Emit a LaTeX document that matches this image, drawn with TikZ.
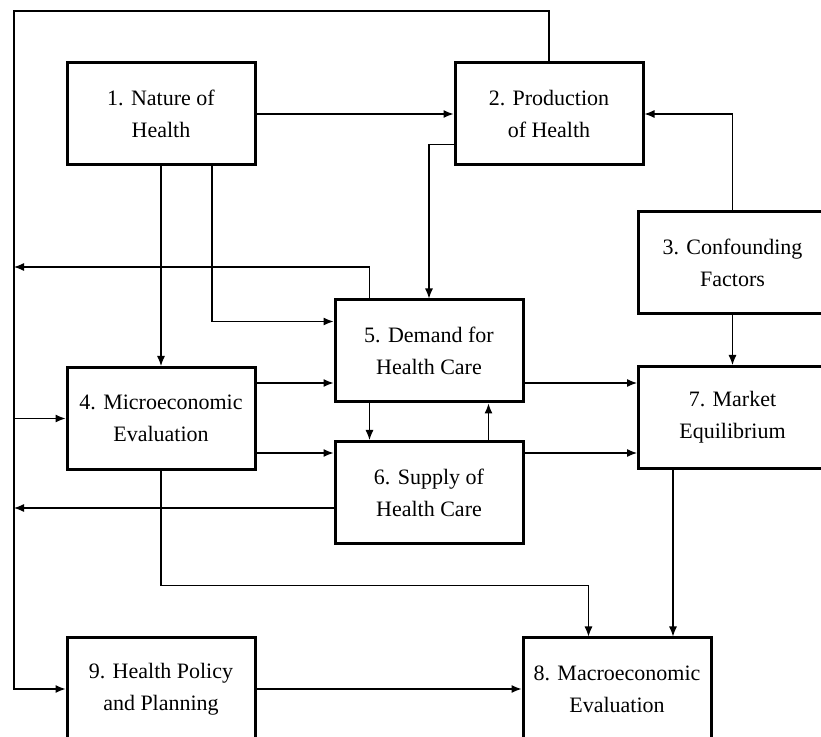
\documentclass[tikz,border=0pt]{standalone}
\usepackage{fontspec}
\setmainfont{Liberation Serif}
\usetikzlibrary{arrows.meta,calc}
\tikzset{
  block/.style={rectangle, draw, line width=1.5pt, minimum width=94pt, minimum height=51pt,
    inner sep=0pt, align=center, font=\fontsize{11}{16}\selectfont},
  arrow/.style={line width=0.6pt, -{Latex[length=5pt,width=4pt]}}
}
\begin{document}
\begin{tikzpicture}[x=0.5pt, y=-0.5pt]
  \useasboundingbox (0,0) rectangle (821,737);
  \clip (0,0) rectangle (821,737);

  \node[block] (nature) at (161,114) {1. Nature of\\Health};
  \node[block] (prod) at (549,114) {2. Production\\of Health};
  \node[block] (conf) at (732.5,263) {3. Confounding\\Factors};
  \node[block] (micro) at (161,418.5) {4. Microeconomic\\Evaluation};
  \node[block] (demand) at (429,351) {5. Demand for\\Health Care};
  \node[block] (supply) at (429,492.5) {6. Supply of\\Health Care};
  \node[block] (market) at (732.5,417.5) {7. Market\\Equilibrium};
  \node[block] (macro) at (617,689) {8. Macroeconomic\\Evaluation};
  \node[block] (policy) at (161,689) {9. Health Policy\\and Planning};

  \coordinate (top) at (14,11);
  \coordinate (fb5) at (14,267);
  \coordinate (fb6) at (14,508);
  \coordinate (r1) at (0,383);
  \coordinate (r2) at (0,453);
  \coordinate (m8) at ($(market.south west)+(36,0)$);

  % feedback loop on the left
  \draw[arrow] (prod.north) |- (top) |- (policy.west);
  \draw[arrow] (micro.west -| top) -- (micro.west);
  \draw[arrow] ($(demand.north west)+(36,0)$) |- (fb5);
  \draw[arrow] (supply.west |- fb6) -- (fb6);

  \draw[arrow] (nature.east) -- (prod.west);
  \draw[arrow] (conf.north) |- (prod.east);
  \draw[arrow] ($(prod.south west)+(0,-22)$) -| (demand.north);
  \draw[arrow] (nature.south) -- (micro.north);
  \draw[arrow] ($(nature.south)+(51,0)$) |- ($(demand.north west)+(0,23)$);

  \draw[arrow] (micro.east |- r1) -- (demand.west |- r1);
  \draw[arrow] (demand.east |- r1) -- (market.west |- r1);
  \draw[arrow] (micro.east |- r2) -- (supply.west |- r2);
  \draw[arrow] (supply.east |- r2) -- (market.west |- r2);
  \draw[arrow] ($(demand.south west)+(36,0)$) -- ($(supply.north west)+(36,0)$);
  \draw[arrow] ($(supply.north east)+(-36,0)$) -- ($(demand.south east)+(-36,0)$);
  \draw[arrow] (conf.south) -- (market.north);

  \draw[arrow] (micro.south) |- ($(macro.north west)+(67,-51)$) -- ($(macro.north west)+(67,0)$);
  \draw[arrow] (m8) -- (m8 |- macro.north);
  \draw[arrow] (policy.east) -- (macro.west);
\end{tikzpicture}
\end{document}
